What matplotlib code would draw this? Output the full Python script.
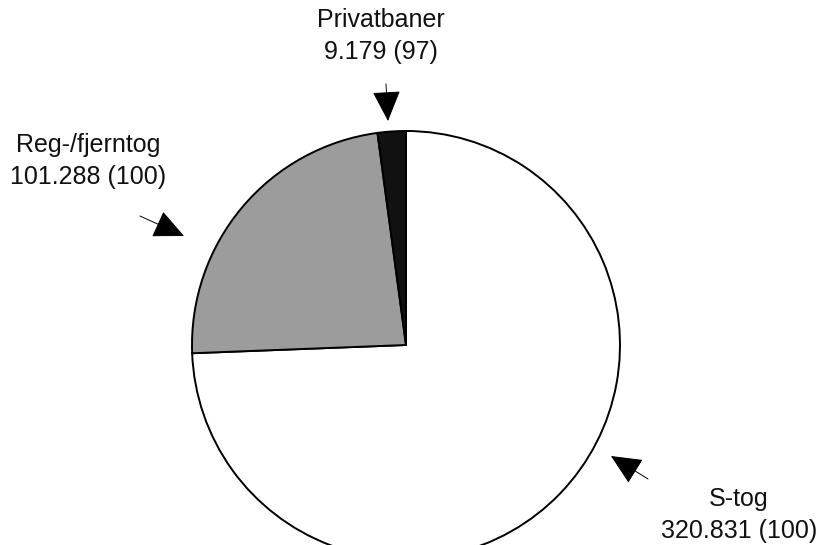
import matplotlib.pyplot as plt

# data
labels = ['S-tog', 'Reg-/fjerntog', 'Privatbaner']
values = [320.831, 101.288, 9.179]
index_vals = [100, 100, 97]
colors = ['white', '#9c9c9c', '#111111']

W, H = 821, 545
fig = plt.figure(figsize=(W / 100, H / 100), dpi=100)
ax = fig.add_axes([0, 0, 1, 1])
ax.set_xlim(0, W)
ax.set_ylim(0, H)
ax.set_aspect('equal')
ax.axis('off')

def fy(y):  # pixel y from top -> data y
    return H - y

ax.pie(values, colors=colors, startangle=90, counterclock=False,
       center=(406, fy(345)), radius=214, frame=True,
       wedgeprops=dict(edgecolor='black', linewidth=1.4))
ax.set_xlim(0, W)
ax.set_ylim(0, H)
ax.axis('off')

plt.rcParams['font.family'] = ['Liberation Sans', 'DejaVu Sans']

def label_text(name, val, idx):
    s = f'{val:.3f} ({idx})'
    return name + '\n' + s

# label positions (pixel coords)
text_pos = {'S-tog': (739, 515), 'Reg-/fjerntog': (88, 161), 'Privatbaner': (381, 36)}
arrows = {'S-tog': ((648, 479), (611, 456)),
          'Reg-/fjerntog': ((140, 216), (184, 236)),
          'Privatbaner': ((386, 84), (388, 121))}

for name, val, idx in zip(labels, values, index_vals):
    x, y = text_pos[name]
    ax.text(x, fy(y), label_text(name, val, idx), ha='center', va='center',
            fontsize=18, linespacing=1.45, color='#111111')
    (x0, y0), (x1, y1) = arrows[name]
    ax.annotate('', xy=(x1, fy(y1)), xytext=(x0, fy(y0)),
                arrowprops=dict(arrowstyle='-|>,head_length=1.95,head_width=0.9',
                                color='black', lw=0.7, shrinkA=0, shrinkB=0))

fig.savefig('out.png', dpi=100)
